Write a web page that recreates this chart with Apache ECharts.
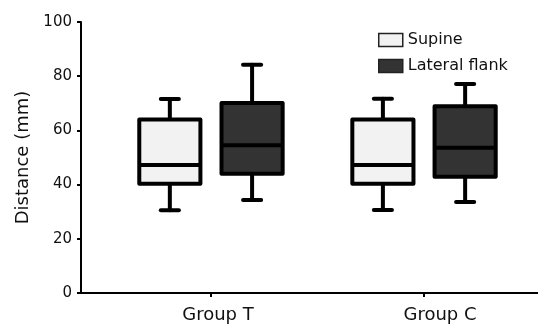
<!DOCTYPE html>
<html><head><meta charset="utf-8">
<script src="https://cdn.jsdelivr.net/npm/echarts@6/dist/echarts.min.js"></script>
<style>html,body{margin:0;padding:0;background:#fff}#c{width:538px;height:324px}</style>
</head><body><div id="c"></div>
<script>
const categories = ['Group T', 'Group C'];
const seriesNames = ['Supine', 'Lateral flank'];
// each row: [min, Q1, median, Q3, max]
const supine = [[30.5, 40.3, 47.2, 64.0, 71.6], [30.6, 40.3, 47.2, 64.0, 71.7]];
const lateral = [[34.3, 44.0, 54.5, 70.1, 84.2], [33.6, 42.9, 53.6, 68.9, 77.1]];
const yMin = 0, yMax = 100, yStep = 20;

const FONT = 'DejaVu Sans';
const OFFSET = 0.193, BOXW = 0.287, CAPW = 0.085;

const chart = echarts.init(document.getElementById('c'), null, {renderer: 'canvas'});

function makeRender(off) {
  return function (params, api) {
    const x = api.value(0) + 1 + off;
    const mn = api.coord([x, api.value(1)]);
    const q1 = api.coord([x, api.value(2)]);
    const md = api.coord([x, api.value(3)]);
    const q3 = api.coord([x, api.value(4)]);
    const mx = api.coord([x, api.value(5)]);
    const half = api.size([BOXW, 0])[0] / 2;
    const cap = api.size([CAPW, 0])[0] / 2;
    const cx = mn[0];
    const ls = {stroke: '#000', lineWidth: 4, lineCap: 'round'};
    return {type: 'group', children: [
      {type: 'line', shape: {x1: cx, y1: mn[1], x2: cx, y2: q1[1]}, style: ls},
      {type: 'line', shape: {x1: cx, y1: q3[1], x2: cx, y2: mx[1]}, style: ls},
      {type: 'line', shape: {x1: cx - cap, y1: mn[1], x2: cx + cap, y2: mn[1]}, style: ls},
      {type: 'line', shape: {x1: cx - cap, y1: mx[1], x2: cx + cap, y2: mx[1]}, style: ls},
      {type: 'rect', shape: {x: cx - half, y: q3[1], width: 2 * half, height: q1[1] - q3[1]},
        style: {fill: api.visual('color'), stroke: '#000', lineWidth: 4, lineJoin: 'round'}},
      {type: 'line', shape: {x1: cx - half, y1: md[1], x2: cx + half, y2: md[1]}, style: {stroke: '#000', lineWidth: 4}}
    ]};
  };
}

chart.setOption({
  animation: false,
  backgroundColor: '#fff',
  textStyle: {fontFamily: FONT},
  grid: {left: 81, right: 0, top: 22, bottom: 30, containLabel: false},
  legend: {
    orient: 'vertical', left: 373, top: 27, itemWidth: 24, itemHeight: 13, itemGap: 10,
    icon: 'rect', data: seriesNames,
    textStyle: {fontFamily: FONT, fontSize: 16, color: '#111'},
    itemStyle: {borderColor: '#222', borderWidth: 1.5}
  },
  xAxis: {
    type: 'value', min: 0.39, max: 2.535,
    splitLine: {show: false},
    axisLine: {show: true, lineStyle: {color: '#000', width: 2}},
    axisTick: {show: true, customValues: [1, 2], length: 4, lineStyle: {color: '#000', width: 2}},
    axisLabel: {customValues: [1.033, 2.075], formatter: v => categories[Math.round(v) - 1],
      fontFamily: FONT, fontSize: 18, color: '#111', margin: 13}
  },
  yAxis: {
    type: 'value', min: yMin, max: yMax, interval: yStep,
    name: 'Distance (mm)', nameLocation: 'middle', nameGap: 48,
    nameTextStyle: {fontFamily: FONT, fontSize: 18, color: '#111'},
    splitLine: {show: false},
    axisLine: {show: true, lineStyle: {color: '#000', width: 2}},
    axisTick: {show: true, length: 4, lineStyle: {color: '#000', width: 2}},
    axisLabel: {fontFamily: FONT, fontSize: 15, color: '#111', margin: 9}
  },
  series: [
    {name: seriesNames[0], type: 'custom', itemStyle: {color: '#f2f2f2'},
      renderItem: makeRender(-OFFSET), encode: {x: 0, y: [1, 2, 3, 4, 5]},
      data: supine.map((d, i) => [i].concat(d))},
    {name: seriesNames[1], type: 'custom', itemStyle: {color: '#333333'},
      renderItem: makeRender(OFFSET), encode: {x: 0, y: [1, 2, 3, 4, 5]},
      data: lateral.map((d, i) => [i].concat(d))}
  ]
});
</script></body></html>
